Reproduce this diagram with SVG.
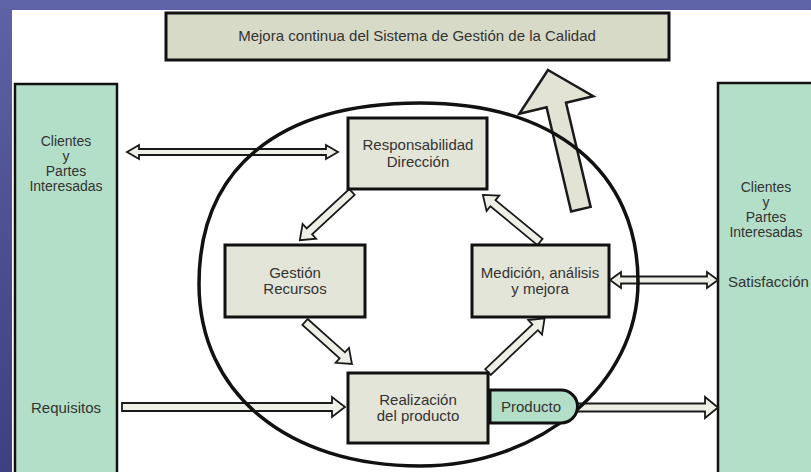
<svg xmlns="http://www.w3.org/2000/svg" width="811" height="472" viewBox="0 0 811 472">
  <defs>
    <linearGradient id="frame" x1="0" y1="0" x2="0" y2="1">
      <stop offset="0" stop-color="#5e62a6"/>
      <stop offset="0.5" stop-color="#4c4f93"/>
      <stop offset="1" stop-color="#3d4083"/>
    </linearGradient>
    <style>
      text { font-family: "Liberation Sans", Arial, sans-serif; font-size: 15px; fill: #333; text-anchor: middle; }
      .stack { font-size: 14px; }
      .box { fill: #e3e5d8; stroke: #111; stroke-width: 3; }
      .banner { fill: #d8dac8; stroke: #111; stroke-width: 3; }
      .side { fill: #b3dfc8; stroke: #111; stroke-width: 2.5; }
      .mint { fill: #b3dfc8; stroke: #111; stroke-width: 3; }
      .arrow { fill: #eeefe6; stroke: #1a1a1a; stroke-width: 1.8; stroke-linejoin: miter; }
      .big { fill: #e2e3d5; stroke: #1a1a1a; stroke-width: 2.5; stroke-linejoin: miter; }
      .ring { fill: none; stroke: #111; stroke-width: 3.5; }
    </style>
  </defs>

  <!-- slide frame and white panel -->
  <rect x="0" y="0" width="811" height="472" fill="url(#frame)"/>
  <rect x="12" y="10" width="799" height="462" fill="#ffffff"/>

  <!-- side columns -->
  <g id="clientes-izq">
    <rect class="side" x="15" y="84" width="102" height="400"/>
    <text class="stack" x="66" y="146">Clientes</text>
    <text class="stack" x="66" y="161">y</text>
    <text class="stack" x="66" y="176">Partes</text>
    <text class="stack" x="66" y="191">Interesadas</text>
    <text x="66" y="413">Requisitos</text>
  </g>
  <g id="clientes-der">
    <rect class="side" x="718" y="83" width="110" height="400"/>
    <text class="stack" x="766" y="192">Clientes</text>
    <text class="stack" x="766" y="207">y</text>
    <text class="stack" x="766" y="222">Partes</text>
    <text class="stack" x="766" y="237">Interesadas</text>
    <text x="728" y="287" style="text-anchor:start">Satisfacción</text>
  </g>

  <!-- banner -->
  <g id="mejora">
    <rect class="banner" x="166" y="13" width="503" height="47"/>
    <text x="417" y="41">Mejora continua del Sistema de Gestión de la Calidad</text>
  </g>

  <!-- connectors -->
  <g id="connectors">
    <!-- big improvement arrow -->
    <g transform="translate(548,70) rotate(-13.3)">
      <polygon class="big" points="0,0 38,36 10,36 10,143 -10,143 -10,36 -38,36"/>
    </g>
    <!-- customers <-> management -->
    <polygon class="arrow" points="127,152 139,145 139,149 326,149 326,145 338,152 326,159 326,155 139,155 139,159"/>
    <!-- requirements -> realization -->
    <polygon class="arrow" points="122,403 332,403 332,397 345,407 332,417 332,411 122,411"/>
    <!-- product -> customers -->
    <polygon class="arrow" points="577,403.5 705,403.5 705,397 718,407.5 705,418 705,411.5 577,411.5"/>
    <!-- measurement <-> satisfaction -->
    <polygon class="arrow" points="610,280 621,272 621,276.5 707,276.5 707,272 718,280 707,288 707,283.5 621,283.5 621,288"/>
    <!-- cycle arrows -->
    <g transform="translate(352,192) rotate(137.3)">
      <polygon class="arrow" points="0,-4 58,-4 58,-10 71,0 58,10 58,4 0,4"/>
    </g>
    <g transform="translate(305,322) rotate(41.8)">
      <polygon class="arrow" points="0,-4 50,-4 50,-10 63,0 50,10 50,4 0,4"/>
    </g>
    <g transform="translate(488,372) rotate(-43.5)">
      <polygon class="arrow" points="0,-4 65,-4 65,-10 78,0 65,10 65,4 0,4"/>
    </g>
    <g transform="translate(540,242) rotate(-140.5)">
      <polygon class="arrow" points="0,-4 61,-4 61,-10 74,0 61,10 61,4 0,4"/>
    </g>
  </g>

  <!-- process ring -->
  <path id="ring" class="ring" d="M638,282 C638,171.8 555.2,103 420,103 C278.6,103 199,168.2 199,284 C199,393.2 287.4,466 420,466 C539.9,466 638,384 638,282 Z"/>

  <!-- process nodes -->
  <g id="responsabilidad">
    <rect class="box" x="348" y="118" width="139" height="71"/>
    <text x="418" y="150">Responsabilidad</text>
    <text x="418" y="167">Dirección</text>
  </g>
  <g id="recursos">
    <rect class="box" x="225" y="245" width="140" height="72"/>
    <text x="295" y="278">Gestión</text>
    <text x="295" y="294">Recursos</text>
  </g>
  <g id="medicion">
    <rect class="box" x="472" y="245" width="137" height="72"/>
    <text x="540" y="278">Medición, análisis</text>
    <text x="540" y="294">y mejora</text>
  </g>
  <g id="realizacion">
    <rect class="box" x="348" y="373" width="140" height="70"/>
    <text x="418" y="405">Realización</text>
    <text x="418" y="421">del producto</text>
  </g>
  <g id="producto">
    <path class="mint" d="M490,390 H561 A16.5,16.5 0 0 1 561,423 H490 Z"/>
    <text x="531" y="412">Producto</text>
  </g>
</svg>
